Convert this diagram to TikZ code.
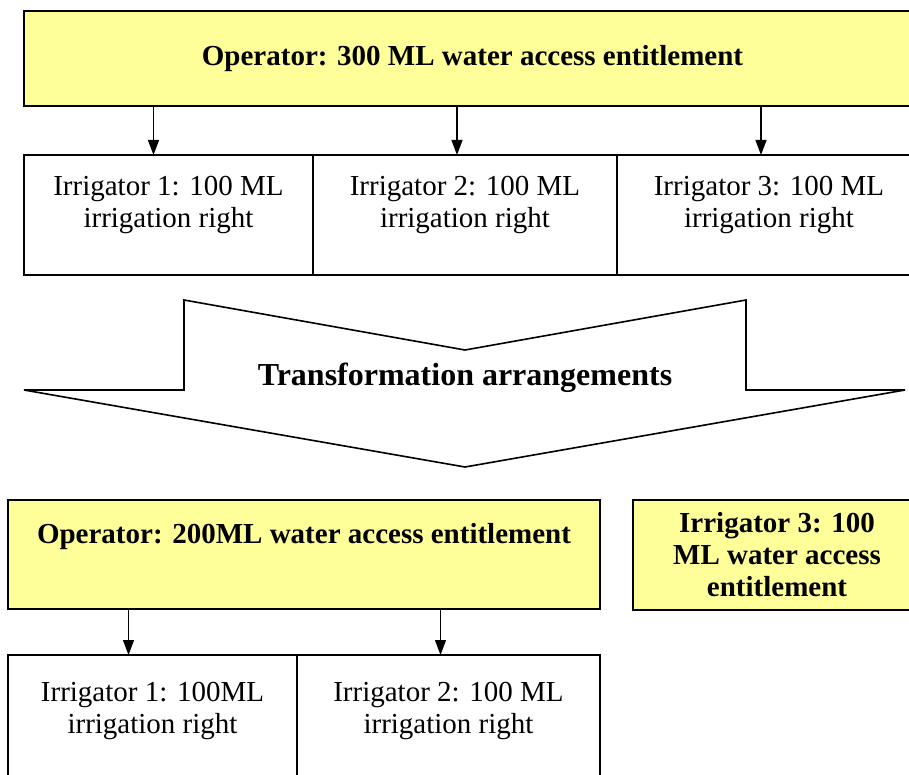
\documentclass[tikz,border=0pt]{standalone}
\usepackage{fontspec}
\setmainfont{Liberation Serif}
\usetikzlibrary{positioning,arrows.meta}
\definecolor{entyellow}{HTML}{FFFF99}
\tikzset{
  box/.style={draw,line width=1.6pt,outer sep=0pt,inner sep=0pt,align=center,
    font=\fontsize{29}{31.5}\selectfont},
  entbox/.style={box,fill=entyellow,font=\fontsize{29}{32}\selectfont\bfseries},
  rightbox/.style={box,minimum height=120},
  flow/.style={line width=1.3pt,-{Triangle[length=15pt,width=11pt]}}
}
\begin{document}
\begin{tikzpicture}[x=1pt,y=-1pt]
    \clip (0,0) rectangle (909,775);

    % Before the transformation
    \node[entbox,minimum width=897,minimum height=95,anchor=north west] (op300) at (24,11)
        {Operator: 300 ML water access entitlement};
    \node[rightbox,minimum width=289,anchor=north west] (irr1) at (24,155)
        {Irrigator 1: 100 ML\\irrigation right\\[-15pt] \strut};
    \node[rightbox,minimum width=304,right=0pt of irr1] (irr2)
        {Irrigator 2: 100 ML\\irrigation right\\[-15pt] \strut};
    \node[rightbox,minimum width=304,right=0pt of irr2] (irr3)
        {Irrigator 3: 100 ML\\irrigation right\\[-15pt] \strut};

    \draw[flow] ([xshift=-15]irr1.north |- op300.south) -- ([xshift=-15]irr1.north);
    \draw[flow] ([xshift=-8]irr2.north |- op300.south) -- ([xshift=-8]irr2.north);
    \draw[flow] ([xshift=-8]irr3.north |- op300.south) -- ([xshift=-8]irr3.north);

    % Big arrow
    \draw[line width=1.6pt,line join=miter] (184,300) -- (465,350) -- (746,300) -- (746,390)
        -- (905,390) -- (465,467) -- (24,390) -- (184,390) -- cycle;
    \node[font=\fontsize{32}{37}\selectfont\bfseries] (trans) at (465,378) {Transformation arrangements};

    % After the transformation
    \node[entbox,minimum width=592,minimum height=109,anchor=north west] (op200) at (8,500)
        {Operator: 200ML water access entitlement\\ \strut};
    \node[entbox,minimum width=288,minimum height=110,anchor=north west] (irr3ent) at (633,500)
        {Irrigator 3: 100\\ML water access\\entitlement};
    \node[rightbox,minimum width=289,minimum height=132,anchor=north west] (irr1b) at (8,655)
        {Irrigator 1: 100ML\\irrigation right\\[-15pt] \strut};
    \node[rightbox,minimum width=303,minimum height=132,right=0pt of irr1b] (irr2b)
        {Irrigator 2: 100 ML\\irrigation right\\[-15pt] \strut};

    \draw[flow] ([xshift=-24]irr1b.north |- op200.south) -- ([xshift=-24]irr1b.north);
    \draw[flow] ([xshift=-8]irr2b.north |- op200.south) -- ([xshift=-8]irr2b.north);
\end{tikzpicture}
\end{document}
